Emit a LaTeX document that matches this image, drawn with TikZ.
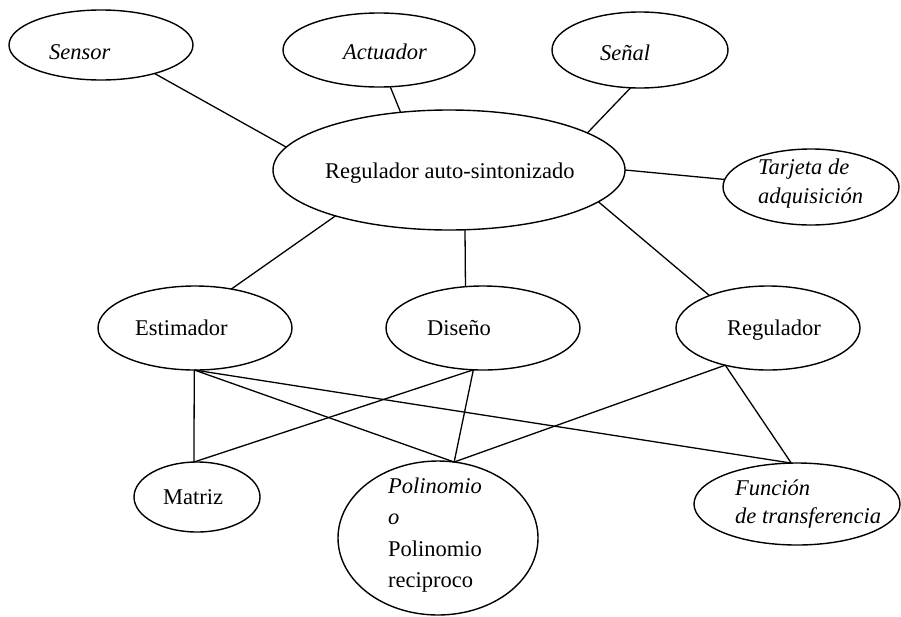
\documentclass[tikz,border=0pt]{standalone}
\usepackage{fontspec}
\setmainfont{Liberation Serif}
\usetikzlibrary{shapes.geometric}
\begin{document}
\begin{tikzpicture}[x=1pt,y=-1pt,
  ell/.style={draw, ellipse, line width=1.4pt, inner sep=0pt, outer sep=0pt},
  link/.style={line width=1.3pt},
  txt/.style={anchor=west, inner sep=0pt, font=\fontsize{22.5}{27}\selectfont},
  itxt/.style={txt, font=\fontsize{22.5}{27}\selectfont\itshape}]
\useasboundingbox (0,0) rectangle (901,616);

% ellipses
\node[ell, minimum width=184pt, minimum height=70pt] (sensor) at (101,45) {};
\node[ell, minimum width=192pt, minimum height=74pt] (actuador) at (379,50) {};
\node[ell, minimum width=176pt, minimum height=76pt] (senal) at (640,50) {};
\node[ell, minimum width=352pt, minimum height=120pt] (regauto) at (449,170) {};
\node[ell, minimum width=176pt, minimum height=76pt] (tarjeta) at (811,187) {};
\node[ell, minimum width=194pt, minimum height=84pt] (estimador) at (195,328) {};
\node[ell, minimum width=194pt, minimum height=84pt] (diseno) at (483,328) {};
\node[ell, minimum width=184pt, minimum height=84pt] (regulador) at (768,328) {};
\node[ell, minimum width=126pt, minimum height=70pt] (matriz) at (197,497) {};
\node[ell, minimum width=200pt, minimum height=154pt] (polinomio) at (438,538) {};
\node[ell, minimum width=206pt, minimum height=82pt] (funcion) at (797,504) {};

% texts
\node[itxt] (sensor-t) at (49,52) {Sensor};
\node[itxt] (actuador-t) at (343,52) {Actuador};
\node[itxt] (senal-t) at (600,53) {Señal};
\node[txt] (regauto-t) at (325,173) {Regulador auto-sintonizado};
\node[itxt, align=left, font=\fontsize{22.5}{29}\selectfont\itshape] (tarjeta-t) at (758,184) {Tarjeta de\\adquisición};
\node[txt] (estimador-t) at (135,328) {Estimador};
\node[txt] (diseno-t) at (427,328) {Diseño};
\node[txt] (regulador-t) at (727,330) {Regulador};
\node[txt] (matriz-t) at (163,497) {Matriz};
\node[txt, align=left, font=\fontsize{22.5}{31.3}\selectfont] (polinomio-t) at (388,535) {\textit{Polinomio}\\\textit{o}\\Polinomio\\reciproco};
\node[itxt, align=left, font=\fontsize{22.5}{28}\selectfont\itshape] (funcion-t) at (735,504) {Función\\de transferencia};

% connectors
\draw[link] (sensor.-28) -- (regauto.172.2);
\draw[link] (actuador.-73.9) -- (regauto.130.4);
\draw[link] (senal.-104.7) -- (regauto.15.4);
\draw[link] (regauto.-0.6) -- (tarjeta.175);
\draw[link] (regauto.-158.4) -- (estimador.47.9);
\draw[link] (regauto.-75) -- (diseno.113.7);
\draw[link] (regauto.-12.2) -- (regulador.151.6);
\draw[link] (estimador.-91) -- (matriz.95);
\draw[link] (estimador.-91) -- (polinomio.78.7);
\draw[link] (estimador.-91) -- (funcion.98.3);
\draw[link] (diseno.-103.4) -- (matriz.95);
\draw[link] (diseno.-103.4) -- (polinomio.78.7);
\draw[link] (regulador.-139.8) -- (polinomio.78.7);
\draw[link] (regulador.-139.8) -- (funcion.98.3);
\end{tikzpicture}
\end{document}
